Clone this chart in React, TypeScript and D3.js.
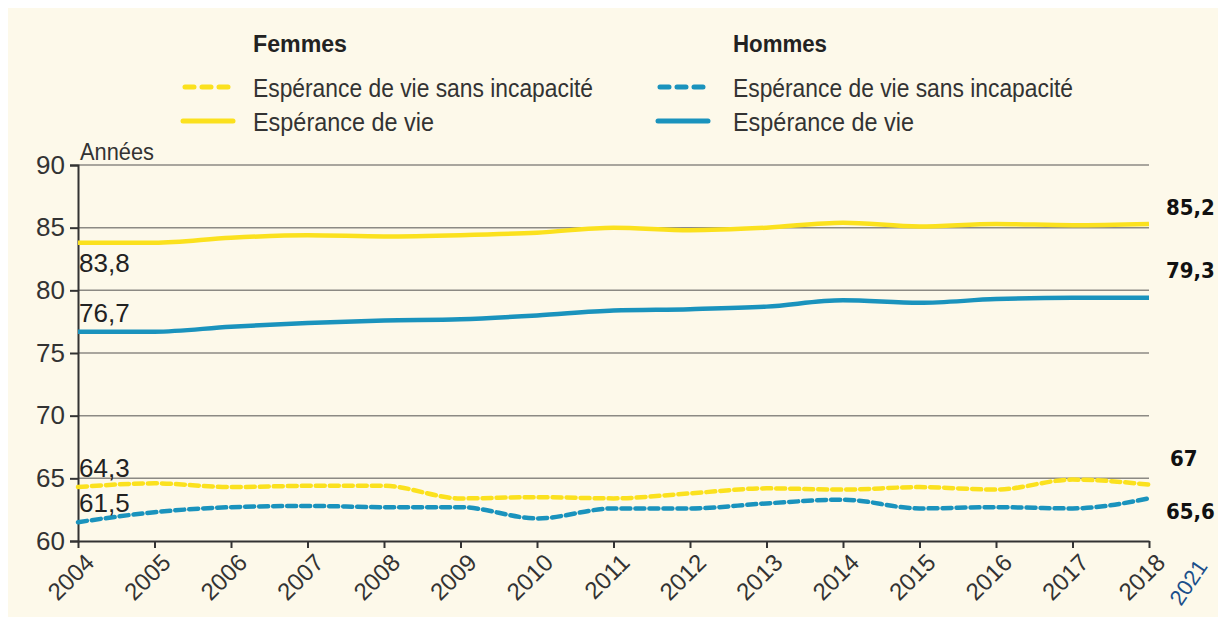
import * as d3 from "d3"
import { useEffect, useRef } from "react"

const years = [2004, 2005, 2006, 2007, 2008, 2009, 2010, 2011, 2012, 2013, 2014, 2015, 2016, 2017, 2018]
const femmesEV = [83.8, 83.8, 84.2, 84.4, 84.3, 84.4, 84.6, 85.0, 84.8, 85.0, 85.4, 85.1, 85.3, 85.2, 85.3]
const hommesEV = [76.7, 76.7, 77.1, 77.4, 77.6, 77.7, 78.0, 78.4, 78.5, 78.7, 79.2, 79.0, 79.3, 79.4, 79.4]
const femmesEVSI = [64.3, 64.6, 64.3, 64.4, 64.4, 63.4, 63.5, 63.4, 63.8, 64.2, 64.1, 64.3, 64.1, 64.9, 64.5]
const hommesEVSI = [61.5, 62.3, 62.7, 62.8, 62.7, 62.7, 61.8, 62.6, 62.6, 63.0, 63.3, 62.6, 62.7, 62.6, 63.4]
const yTicks = [60, 65, 70, 75, 80, 85, 90]
const startLabels = ["83,8", "76,7", "64,3", "61,5"]
const endLabels = ["85,2", "79,3", "67", "65,6"]

const YELLOW = "#fbe11e"
const BLUE = "#1a93bd"
const FONT = "'Liberation Sans', Arial, sans-serif"

const App = () => {
  const svgRef = useRef<SVGSVGElement | null>(null)

  useEffect(() => {
    if (!svgRef.current) return
    const svg = d3.select(svgRef.current)
    svg.selectAll("*").remove()

    const W = 1218
    const H = 623
    const margin = { top: 165, right: 69, bottom: 82, left: 78 }

    svg.attr("width", W).attr("height", H)

    // background
    svg.append("rect").attr("width", W).attr("height", H).attr("fill", "#ffffff")
    svg
      .append("rect")
      .attr("x", 8)
      .attr("y", 8)
      .attr("width", W - 8)
      .attr("height", H - 14)
      .attr("fill", "#fdf9ea")

    const x = d3
      .scaleLinear()
      .domain([2004, 2018])
      .range([margin.left, W - margin.right])
    const y = d3
      .scaleLinear()
      .domain([60, 90])
      .range([H - margin.bottom, margin.top])

    // grid
    svg
      .append("g")
      .selectAll("line")
      .data(yTicks.filter((t) => t > 60))
      .enter()
      .append("line")
      .attr("x1", x(2004))
      .attr("x2", x(2018))
      .attr("y1", (d) => y(d))
      .attr("y2", (d) => y(d))
      .attr("stroke", "#8c8a84")
      .attr("stroke-width", 1.5)

    // y axis
    const yAxis = svg
      .append("g")
      .attr("transform", `translate(${x(2004)},0)`)
      .call(d3.axisLeft(y).tickValues(yTicks).tickSize(8).tickPadding(5))
    yAxis.select(".domain").attr("stroke", "#333").attr("stroke-width", 2)
    yAxis.selectAll(".tick line").attr("stroke", "#333").attr("stroke-width", 2)
    yAxis
      .selectAll(".tick text")
      .style("font", `26px ${FONT}`)
      .attr("fill", "#333")

    // x axis
    const xAxis = svg
      .append("g")
      .attr("transform", `translate(0,${y(60)})`)
      .call(
        d3
          .axisBottom(x)
          .tickValues(years)
          .tickFormat((d) => String(d))
          .tickSize(7)
          .tickSizeOuter(0),
      )
    xAxis.select(".domain").attr("stroke", "#333").attr("stroke-width", 2)
    xAxis.selectAll(".tick line").attr("stroke", "#333").attr("stroke-width", 2)
    xAxis
      .selectAll(".tick text")
      .style("font", `24px ${FONT}`)
      .attr("fill", "#333")
      .attr("text-anchor", "end")
      .attr("dy", "0")
      .attr("transform", "translate(10,16) rotate(-45)")

    svg
      .append("text")
      .attr("x", x(2004) + 2)
      .attr("y", y(90) - 5)
      .style("font", `23px ${FONT}`)
      .attr("fill", "#333")
      .attr("textLength", 74)
      .attr("lengthAdjust", "spacingAndGlyphs")
      .text("Années")

    // lines
    const line = d3
      .line<number>()
      .x((_, i) => x(years[i]))
      .y((d) => y(d))
      .curve(d3.curveMonotoneX)

    const series = [
      { values: femmesEVSI, color: YELLOW, dash: "9,5" },
      { values: hommesEVSI, color: BLUE, dash: "9,5" },
      { values: femmesEV, color: YELLOW, dash: null },
      { values: hommesEV, color: BLUE, dash: null },
    ]
    series.forEach((s) => {
      svg
        .append("path")
        .datum(s.values)
        .attr("d", line)
        .attr("fill", "none")
        .attr("stroke", s.color)
        .attr("stroke-width", 4.5)
        .attr("stroke-linecap", s.dash ? "round" : "butt")
        .attr("stroke-dasharray", s.dash)
    })

    // start labels
    const startPos = [
      { v: femmesEV[0], dy: 29 },
      { v: hommesEV[0], dy: -10 },
      { v: femmesEVSI[0], dy: -10 },
      { v: hommesEVSI[0], dy: -10 },
    ]
    svg
      .append("g")
      .selectAll("text")
      .data(startLabels)
      .enter()
      .append("text")
      .attr("x", x(2004) + 1)
      .attr("y", (_, i) => y(startPos[i].v) + startPos[i].dy)
      .style("font", `26px ${FONT}`)
      .attr("fill", "#222")
      .text((d) => d)

    // end labels (2021)
    const endVals = [86.0, 81.0, 66.0, 61.75]
    svg
      .append("g")
      .selectAll("text")
      .data(endLabels)
      .enter()
      .append("text")
      .attr("x", (d) => (d === "67" ? 1170 : 1166))
      .attr("y", (_, i) => y(endVals[i]))
      .style("font", "bold 22px 'DejaVu Sans Condensed', 'DejaVu Sans', sans-serif")
      .attr("fill", "#111")
      .text((d) => d)

    svg
      .append("text")
      .attr("transform", "translate(1181,607) rotate(-56)")
      .style("font", `22px ${FONT}`)
      .attr("fill", "#1a4f8a")
      .text("2021")

    // legend
    const legend = [
      { title: "Femmes", color: YELLOW, tx: 253, lx: 183 },
      { title: "Hommes", color: BLUE, tx: 733, lx: 658 },
    ]
    legend.forEach((l) => {
      const g = svg.append("g")
      g.append("text")
        .attr("x", l.tx)
        .attr("y", 52)
        .style("font", `bold 23px ${FONT}`)
        .attr("fill", "#222")
        .attr("textLength", 94)
        .attr("lengthAdjust", "spacingAndGlyphs")
        .text(l.title)
      g.append("line")
        .attr("x1", l.lx + 2)
        .attr("x2", l.lx + 48)
        .attr("y1", 87)
        .attr("y2", 87)
        .attr("stroke", l.color)
        .attr("stroke-width", 5)
        .attr("stroke-linecap", "round")
        .attr("stroke-dasharray", "9,8")
      g.append("line")
        .attr("x1", l.lx)
        .attr("x2", l.lx + 50)
        .attr("y1", 121)
        .attr("y2", 121)
        .attr("stroke", l.color)
        .attr("stroke-width", 5)
        .attr("stroke-linecap", "round")
      g.append("text")
        .attr("x", l.tx)
        .attr("y", 97)
        .style("font", `25px ${FONT}`)
        .attr("fill", "#333")
        .attr("textLength", 340)
        .attr("lengthAdjust", "spacingAndGlyphs")
        .text("Espérance de vie sans incapacité")
      g.append("text")
        .attr("x", l.tx)
        .attr("y", 131)
        .style("font", `25px ${FONT}`)
        .attr("fill", "#333")
        .attr("textLength", 181)
        .attr("lengthAdjust", "spacingAndGlyphs")
        .text("Espérance de vie")
    })
  }, [])

  return <svg ref={svgRef} style={{ position: "absolute", left: 0, top: 0, display: "block" }} />
}

export default App
